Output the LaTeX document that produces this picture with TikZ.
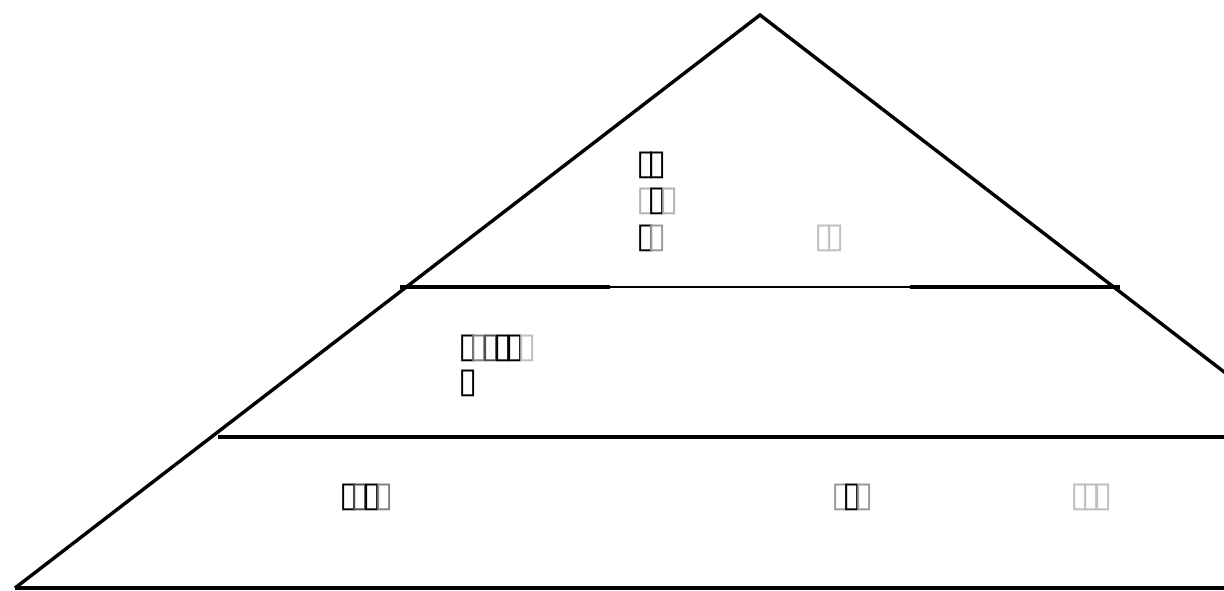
\documentclass[tikz,border=0pt]{standalone}
\usepackage{fontspec}
\newfontfamily\symfont{DejaVu Sans}
\newcommand{\tfb}[1]{{\color{#1}\symfont\fontsize{35}{35}\selectfont ▯}\kern-7.5pt}
\begin{document}
\begin{tikzpicture}[x=1pt,y=-1pt,
  edge/.style={line width=3.4pt,line join=miter},
  tier/.style={line width=3.2pt},
  lbl/.style={anchor=west,inner sep=0pt}]
\useasboundingbox (0,0) rectangle (1224,590);
\begin{scope}
\clip (0,0) rectangle (1224,590);
\fill[white] (0,0) rectangle (1224,590);
\draw[edge] (15,588) -- (760,15) -- (1505,588);
\draw[tier] (15,588) -- (1224,588);
\draw[tier] (218,437) -- (1224,437);
\draw[tier] (400,287) -- (610,287);
\draw[line width=1.8pt] (610,287) -- (910,287);
\draw[tier] (910,287) -- (1120,287);
\end{scope}
\node[lbl] (t1) at (636,165) {\tfb{black}\tfb{black}};
\node[lbl] (t2) at (636,201) {\tfb{black!30}\tfb{black}\tfb{black!30}};
\node[lbl] (t3) at (636,238) {\tfb{black}\tfb{black!40}};
\node[lbl] (t4) at (814,238) {\tfb{black!25}\tfb{black!25}};
\node[lbl] (m1) at (458,348) {\tfb{black}\tfb{black!50}\tfb{black!70}\tfb{black}\tfb{black}\tfb{black!25}};
\node[lbl] (m2) at (458,383) {\tfb{black}};
\node[lbl] (b1) at (339,497) {\tfb{black}\tfb{black!70}\tfb{black}\tfb{black!50}};
\node[lbl] (b2) at (831,497) {\tfb{black!40}\tfb{black}\tfb{black!40}};
\node[lbl] (b3) at (1070,497) {\tfb{black!25}\tfb{black!25}\tfb{black!25}};
\end{tikzpicture}
\end{document}
